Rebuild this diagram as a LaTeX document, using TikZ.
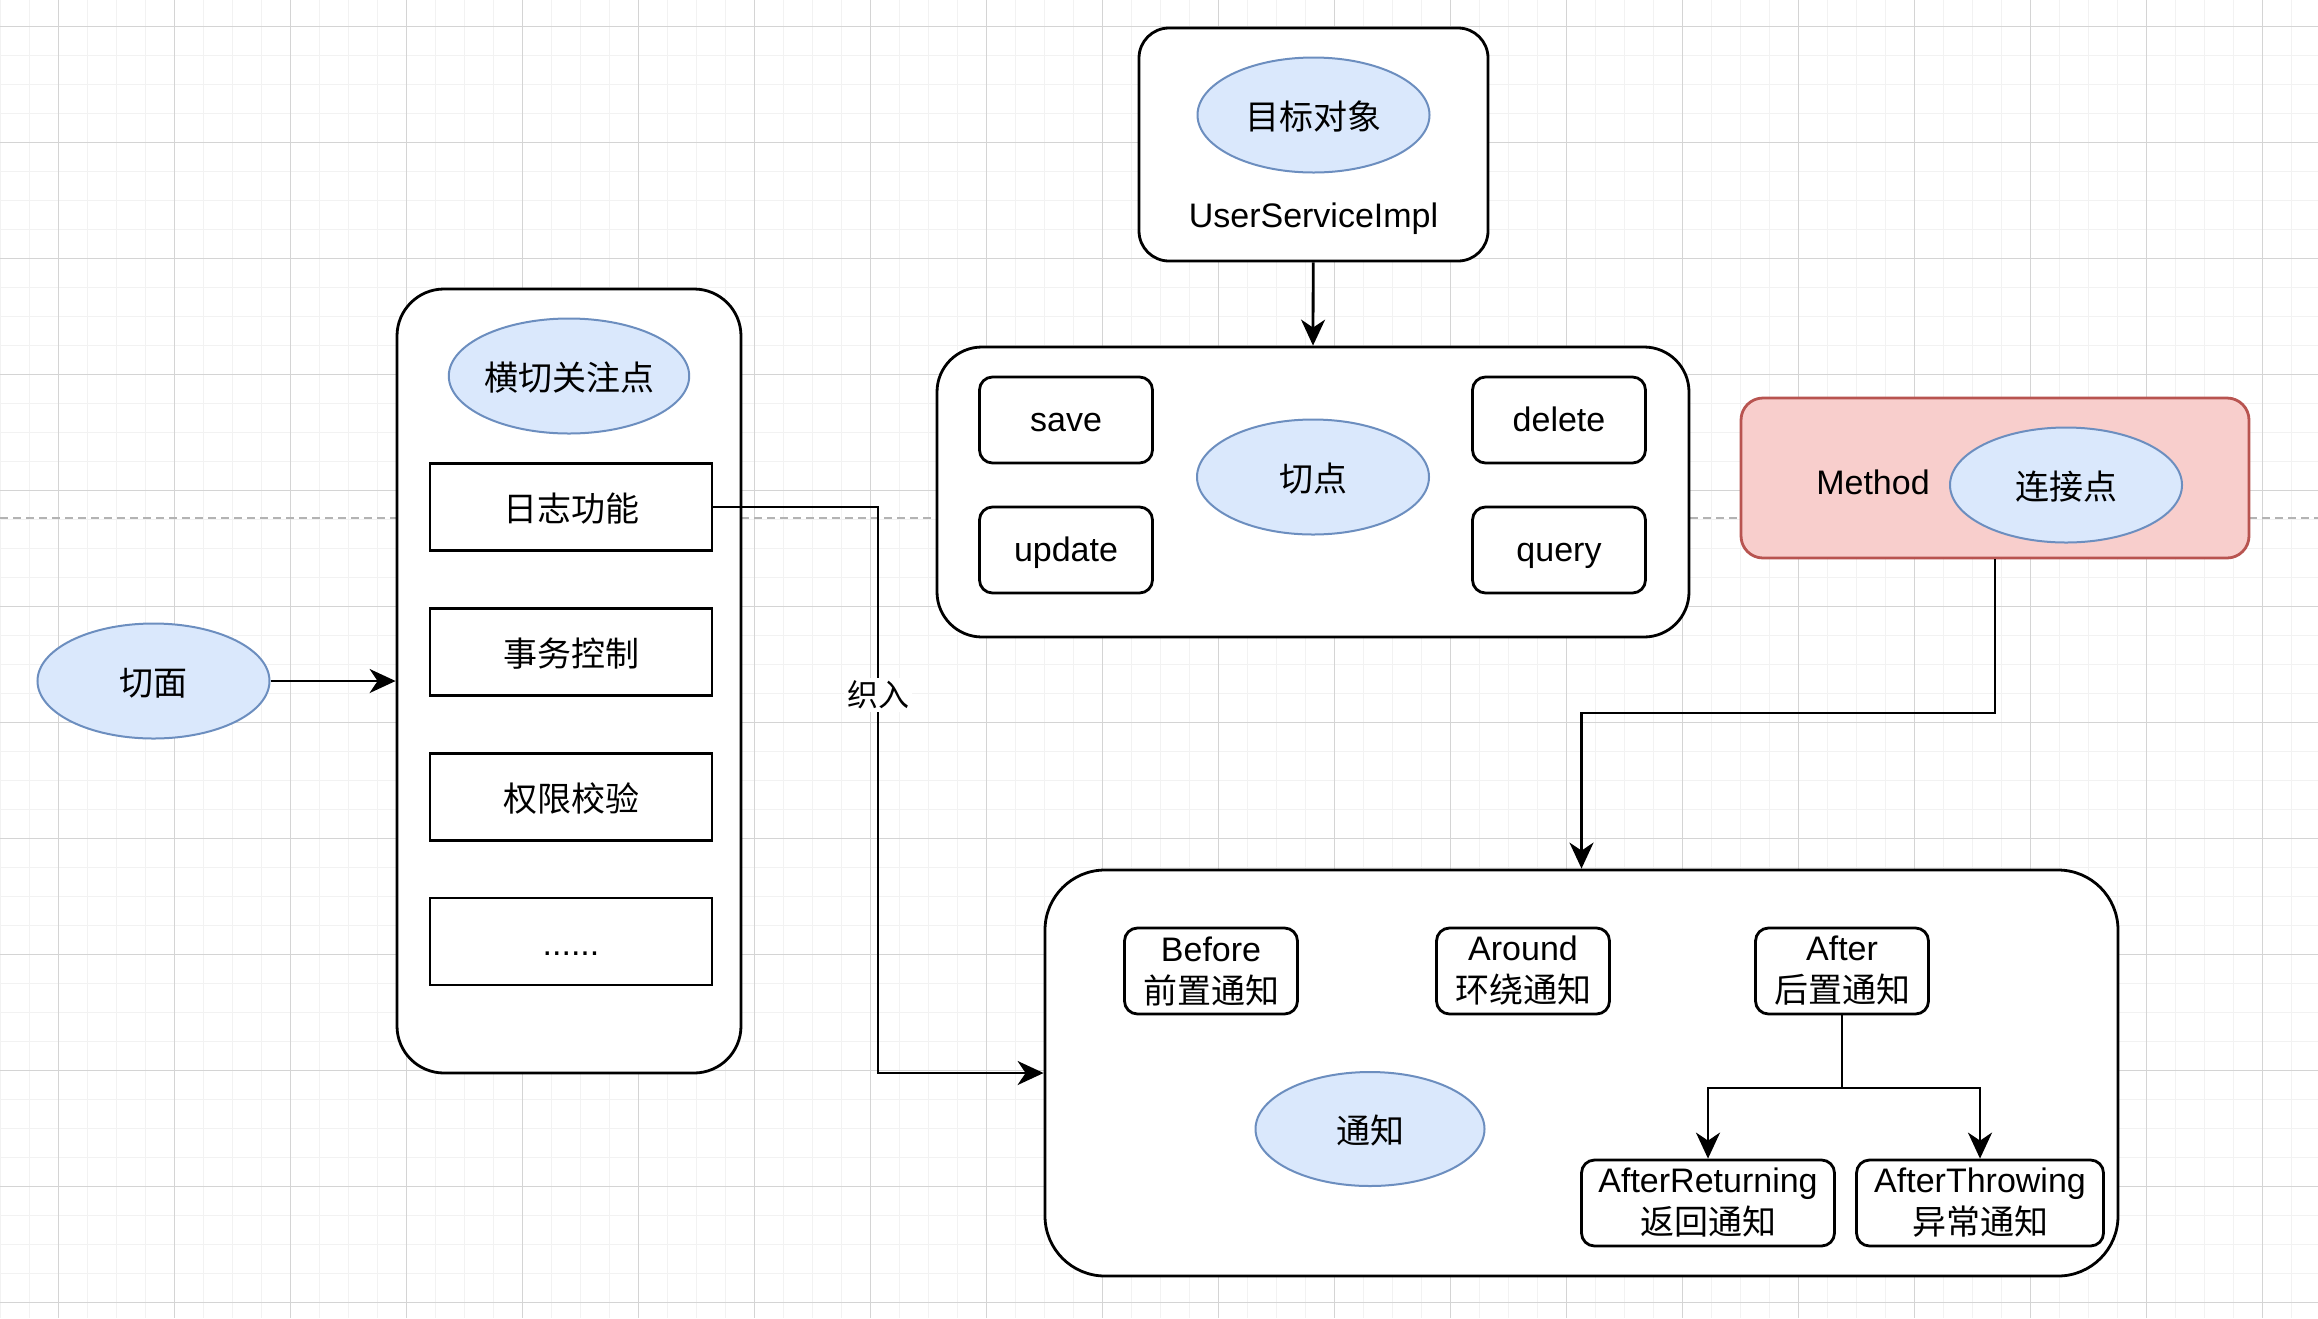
\documentclass[tikz,border=0pt]{standalone}
\usepackage{fontspec}
\setmainfont{Liberation Sans}
\newfontfamily\cjk{Noto Sans CJK SC}
\usetikzlibrary{shapes.geometric,arrows.meta}
\definecolor{blobfill}{HTML}{DAE8FC}
\definecolor{blobline}{HTML}{6C8EBF}
\definecolor{jpfill}{HTML}{F8CECC}
\definecolor{jpline}{HTML}{B85450}
\definecolor{minorline}{HTML}{F2F2F2}
\definecolor{majorline}{HTML}{D4D4D4}
\definecolor{dashline}{HTML}{B3B3B3}
\tikzset{
  base/.style={font=\fontsize{34pt}{42pt}\selectfont, align=center, inner sep=0pt},
  oneline/.style={text height=28pt, text depth=5pt},
  cnline/.style={text height=30.5pt, text depth=2.5pt},
  blob/.style={base, cnline, ellipse, draw=blobline, fill=blobfill, line width=2pt,
    minimum width=232pt, minimum height=115pt},
  frame/.style={draw, fill=white, line width=2.8pt},
  item/.style={base, cnline, draw, fill=white, line width=2.8pt,
    minimum width=282pt, minimum height=87pt},
  method/.style={base, draw, fill=white, line width=2.8pt, rounded corners=13pt,
    minimum width=173pt, minimum height=86pt},
  call/.style={method, oneline},
  wire/.style={line width=2.8pt},
  link/.style={wire, -{Stealth[length=26pt,width=24pt,inset=8pt]}},
  tag/.style={font=\fontsize{31pt}{36pt}\selectfont\cjk, fill=white, inner sep=3pt},
}
\begin{document}
\begin{tikzpicture}[x=1pt, y=-1pt]
    \useasboundingbox (0,0) rectangle (2318,1318);
    % 背景网格
    \fill[white] (0,0) rectangle (2318,1318);
    \foreach \i in {0,...,79} \draw[minorline, line width=1.3pt] ({0.3+29*\i},0) -- ++(0,1318);
    \foreach \j in {-1,...,45} \draw[minorline, line width=1.3pt] (0,{26.3+29*\j}) -- ++(2318,0);
    \foreach \i in {0,...,19} \draw[majorline, line width=1pt] ({58.3+116*\i},0) -- ++(0,1318);
    \foreach \j in {0,...,11} \draw[majorline, line width=1pt] (0,{26.3+116*\j}) -- ++(2318,0);
    \draw[dashline, line width=1.5pt, dash pattern=on 8pt off 5pt] (0,518) -- (2318,518);

    % 切面
    \node[blob] (aspect) at (153.5,681) {\cjk 切面};
    \node[frame, rounded corners=47pt, minimum width=344pt, minimum height=784pt] (concern) at (569,681) {};
    \node[blob] (concernTag) at (569,376) {\cjk 横切关注点};
    \node[item] (log) at (571,507) {\cjk 日志功能};
    \node[item] (tx) at (571,652) {\cjk 事务控制};
    \node[item] (auth) at (571,797) {\cjk 权限校验};
    \node[item] (more) at (571,941.5) {......};

    % 目标对象
    \node[frame, rounded corners=30pt, minimum width=349pt, minimum height=233pt] (target) at (1313.5,144.5) {};
    \node[blob] (targetTag) at (1313.5,115) {\cjk 目标对象};
    \node[base, oneline] (impl) at (1313.5,216) {UserServiceImpl};

    % 切点
    \node[frame, rounded corners=45pt, minimum width=752pt, minimum height=290pt] (pointcut) at (1313,492) {};
    \node[call] (save) at (1066,420) {save};
    \node[call] (update) at (1066,550) {update};
    \node[call] (delete) at (1559,420) {delete};
    \node[call] (query) at (1559,550) {query};
    \node[blob] (pointcutTag) at (1313,477) {\cjk 切点};

    % 连接点
    \node[frame, draw=jpline, fill=jpfill, rounded corners=22pt, minimum width=508pt, minimum height=160pt] (joint) at (1995,478) {};
    \node[base, oneline] (jointText) at (1873,483) {Method};
    \node[blob] (jointTag) at (2066,485) {\cjk 连接点};

    % 通知
    \node[frame, rounded corners=60pt, minimum width=1073pt, minimum height=406pt] (advice) at (1581.5,1073) {};
    \node[method] (before) at (1211,971) {Before\\{\cjk 前置通知}};
    \node[method] (around) at (1523,971) {Around\\{\cjk 环绕通知}};
    \node[method] (after) at (1842,971) {After\\{\cjk 后置通知}};
    \node[method, minimum width=253pt] (ret) at (1708,1203) {AfterReturning\\{\cjk 返回通知}};
    \node[method, minimum width=247pt] (thr) at (1980,1203) {AfterThrowing\\{\cjk 异常通知}};
    \node[blob, minimum width=229pt, minimum height=114pt] (adviceTag) at (1370,1129) {\cjk 通知};

    % 连线
    \draw[link] (aspect) -- (concern.west |- aspect);
    \draw[link] (target) -- (pointcut.north);
    \node[tag] (weave) at (878,695) {织入};
    \draw[link] (log.east) -| (weave) |- (advice.west);
    \coordinate (jpBend) at (1995,713);
    \draw[link] (joint.south) -- (jpBend) -| (advice.north);
    \coordinate (afterSplit) at (1842,1088);
    \draw[wire] (after.south) -- (afterSplit);
    \draw[link] (afterSplit) -| (ret.north);
    \draw[link] (afterSplit) -| (thr.north);
\end{tikzpicture}
\end{document}
